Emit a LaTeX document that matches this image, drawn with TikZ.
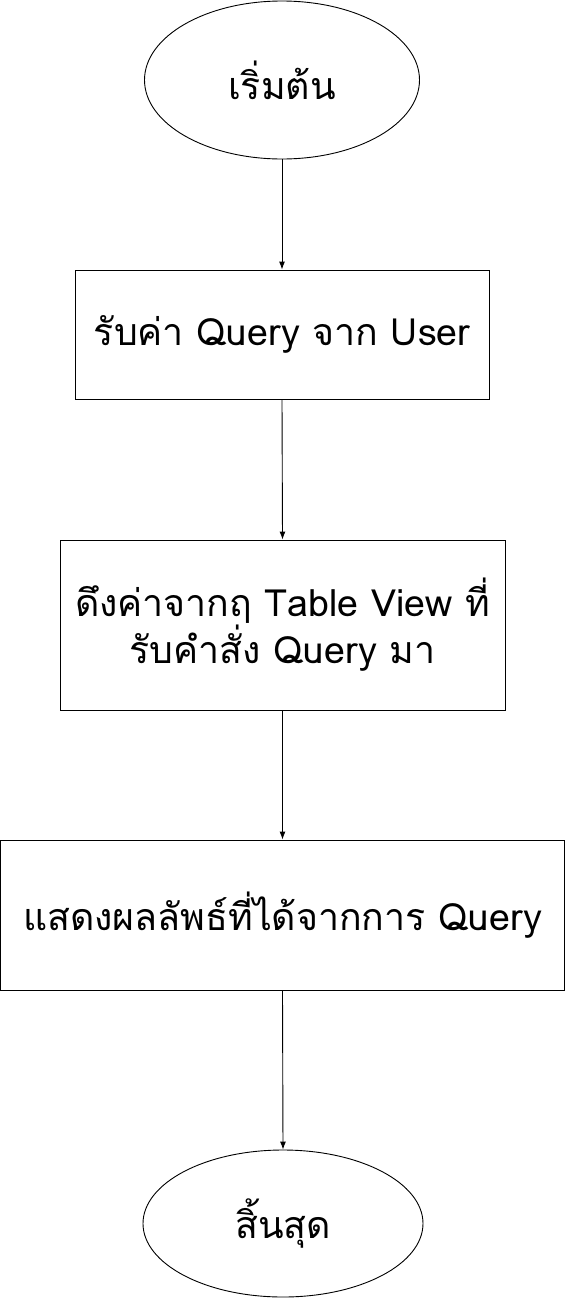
\documentclass[tikz,border=0pt]{standalone}
\usepackage{fontspec}
\usetikzlibrary{shapes.geometric,arrows.meta}
\newfontfamily\thaifont[Script=Thai]{Loma}
\begin{document}
\begin{tikzpicture}[x=1pt,y=-1pt,
  every node/.style={font=\thaifont\fontsize{37.5}{47}\selectfont, inner sep=0pt, line width=0.9pt},
  term/.style={draw, ellipse},
  proc/.style={draw, rectangle, align=center},
  conn/.style={draw, line width=0.9pt, -{Latex[length=8pt,width=6pt]}}]
\useasboundingbox (0,0) rectangle (566,1301);
\node[term, minimum width=275pt, minimum height=158pt] (start) at (282,80) {เริ่มต้น};
\node[proc, minimum width=414pt, minimum height=129pt] (b1) at (282,334.5) {รับค่า Query จาก User};
\node[proc, minimum width=445pt, minimum height=170pt] (b2) at (282.5,625) {ดึงค่าจากฤ Table View ที่\\รับคำสั่ง Query มา};
\node[proc, minimum width=564pt, minimum height=150pt] (b3) at (282.5,915) {แสดงผลลัพธ์ที่ได้จากการ Query};
\node[term, minimum width=280pt, minimum height=147pt] (end) at (283,1223.5) {สิ้นสุด};
\draw[conn] (start.south) -- (b1.north);
\draw[conn] (b1.south) -- (b2.north);
\draw[conn] (b2.south) -- (b3.north);
\draw[conn] (b3.south) -- (end.north);
\end{tikzpicture}
\end{document}
